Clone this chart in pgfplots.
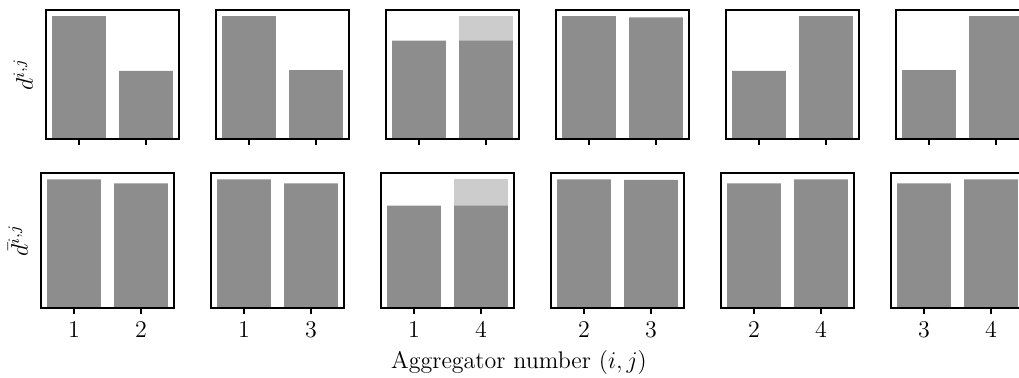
\documentclass[border=0pt]{standalone}
\usepackage{pgfplots}
\pgfplotsset{compat=1.18}
\definecolor{darkbar}{RGB}{141,141,141}
\definecolor{lightbar}{RGB}{204,204,204}
\pgfplotsset{
  panel/.style={
    scale only axis, width=66.5pt, anchor=north west,
    xmin=-0.49, xmax=1.49, ymin=0, ymax=1.05,
    ytick=\empty, xtick={0,1}, xtick pos=left, tick align=outside,
    major tick length=3pt,
    axis line style={line width=0.9pt, black},
    every tick/.style={black, line width=0.8pt},
    axis on top,
    tick label style={font=\fontsize{12}{14}\selectfont},
    label style={font=\fontsize{12}{14}\selectfont},
  },
  toprow/.style={panel, height=64.5pt, xticklabels={}},
  botrow/.style={panel, height=67.5pt},
  darkb/.style={ybar, bar width=0.8, fill=darkbar, draw=none},
  lightb/.style={ybar, bar width=0.8, fill=lightbar, draw=none},
}
\begin{document}
\begin{tikzpicture}
\useasboundingbox (0,0) rectangle (509.5pt,-188.5pt);
% ---------------- top row ----------------
\begin{axis}[toprow, at={(23pt,-5pt)}, ylabel={$d^{i,j}$}]
\addplot[darkb] coordinates {(0,1.0) (1,0.555)};
\end{axis}
\begin{axis}[toprow, at={(108pt,-5pt)}]
\addplot[darkb] coordinates {(0,1.0) (1,0.56)};
\end{axis}
\begin{axis}[toprow, at={(193pt,-5pt)}]
\addplot[lightb] coordinates {(1,1.0)};
\addplot[darkb] coordinates {(0,0.80) (1,0.80)};
\end{axis}
\begin{axis}[toprow, at={(278pt,-5pt)}]
\addplot[darkb] coordinates {(0,1.0) (1,0.99)};
\end{axis}
\begin{axis}[toprow, at={(363pt,-5pt)}]
\addplot[darkb] coordinates {(0,0.555) (1,1.0)};
\end{axis}
\begin{axis}[toprow, at={(448pt,-5pt)}]
\addplot[darkb] coordinates {(0,0.56) (1,1.0)};
\end{axis}
% ---------------- bottom row ----------------
\begin{axis}[botrow, at={(20.5pt,-86.5pt)}, xticklabels={1,2}, ylabel={$\bar{d}^{i,j}$}]
\addplot[darkb] coordinates {(0,1.0) (1,0.969)};
\end{axis}
\begin{axis}[botrow, at={(105.5pt,-86.5pt)}, xticklabels={1,3}]
\addplot[darkb] coordinates {(0,1.0) (1,0.97)};
\end{axis}
\begin{axis}[botrow, at={(190.5pt,-86.5pt)}, xticklabels={1,4}]
\addplot[lightb] coordinates {(1,1.0)};
\addplot[darkb] coordinates {(0,0.797) (1,0.797)};
\end{axis}
\begin{axis}[botrow, at={(275.5pt,-86.5pt)}, xticklabels={2,3}]
\addplot[darkb] coordinates {(0,1.0) (1,0.997)};
\end{axis}
\begin{axis}[botrow, at={(360.5pt,-86.5pt)}, xticklabels={2,4}]
\addplot[darkb] coordinates {(0,0.97) (1,1.0)};
\end{axis}
\begin{axis}[botrow, at={(445.5pt,-86.5pt)}, xticklabels={3,4}]
\addplot[darkb] coordinates {(0,0.969) (1,1.0)};
\end{axis}
\node[anchor=base, font=\fontsize{12}{14}\selectfont] at (259.5pt,-184.3pt) {Aggregator number $(i,j)$};
\end{tikzpicture}
\end{document}
